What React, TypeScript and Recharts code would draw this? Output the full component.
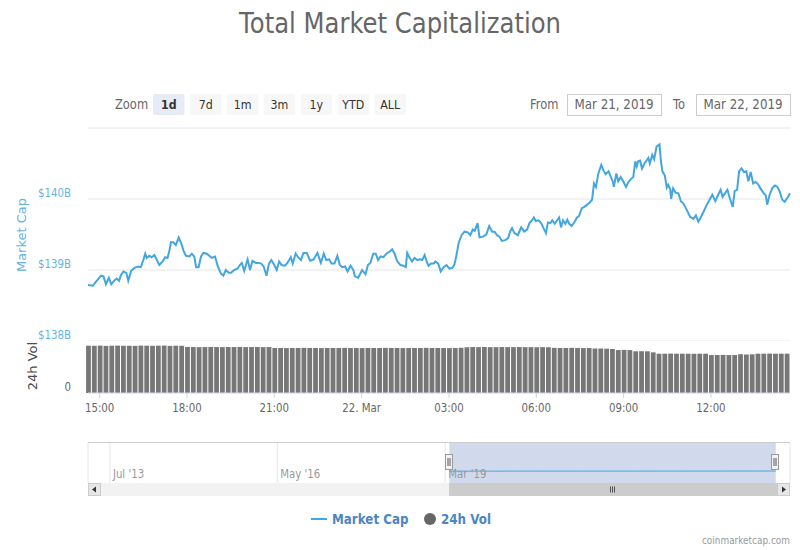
import { LineChart, Line, BarChart, Bar, XAxis, YAxis, CartesianGrid, ReferenceArea } from 'recharts';

// minutes since 21 Mar 2019 00:00, market cap in $B
const marketCap: [number, number][] = [
  [876, 138.79], [886, 138.78], [893, 138.84], [903, 138.92], [908, 138.91], [913, 138.8], [919, 138.89], [924, 138.8], [930, 138.85], [935, 138.88],
  [940, 138.85], [944, 138.93], [949, 138.98], [955, 138.96], [959, 138.85], [965, 138.99], [972, 139.03], [979, 139.05], [985, 139.04], [990, 139.14],
  [994, 139.23], [997, 139.17], [1002, 139.2], [1007, 139.18], [1013, 139.21], [1018, 139.14], [1023, 139.07], [1030, 139.12], [1035, 139.18], [1040, 139.17],
  [1044, 139.28], [1047, 139.39], [1052, 139.39], [1057, 139.35], [1063, 139.46], [1068, 139.38], [1073, 139.27], [1078, 139.2], [1085, 139.19], [1090, 139.23],
  [1095, 139.19], [1099, 139.04], [1104, 139.04], [1109, 139.19], [1114, 139.24], [1121, 139.23], [1126, 139.2], [1131, 139.17], [1138, 139.19], [1143, 139.06],
  [1150, 138.95], [1155, 138.92], [1160, 139.0], [1166, 138.96], [1171, 138.96], [1177, 139.0], [1184, 139.02], [1189, 139.07], [1193, 139.1], [1198, 138.99],
  [1205, 139.15], [1210, 139.0], [1215, 139.13], [1222, 139.1], [1227, 139.1], [1233, 139.09], [1238, 139.05], [1244, 138.92], [1249, 139.09], [1254, 139.14],
  [1260, 139.07], [1265, 139.0], [1270, 139.12], [1275, 139.07], [1282, 139.06], [1287, 139.1], [1294, 139.18], [1298, 139.09], [1304, 139.23], [1309, 139.18],
  [1315, 139.14], [1320, 139.24], [1327, 139.24], [1334, 139.13], [1341, 139.15], [1349, 139.24], [1356, 139.1], [1362, 139.23], [1367, 139.14], [1373, 139.15],
  [1378, 139.09], [1384, 139.09], [1390, 139.2], [1395, 139.07], [1400, 139.04], [1406, 139.05], [1411, 138.98], [1417, 139.06], [1423, 139.0], [1426, 138.91],
  [1433, 138.89], [1441, 139.0], [1448, 138.94], [1453, 139.07], [1458, 139.1], [1464, 139.23], [1469, 139.23], [1474, 139.14], [1479, 139.19], [1485, 139.18],
  [1491, 139.23], [1498, 139.26], [1503, 139.29], [1508, 139.23], [1513, 139.13], [1520, 139.07], [1526, 139.06], [1531, 139.04], [1534, 139.24], [1539, 139.17],
  [1544, 139.12], [1549, 139.17], [1555, 139.14], [1560, 139.15], [1565, 139.14], [1570, 139.21], [1574, 139.12], [1578, 139.06], [1583, 139.09], [1589, 139.09],
  [1592, 139.12], [1598, 139.09], [1603, 138.98], [1609, 139.04], [1615, 139.07], [1621, 139.02], [1627, 139.03], [1631, 139.07], [1635, 139.19], [1640, 139.38],
  [1646, 139.49], [1652, 139.54], [1659, 139.53], [1664, 139.49], [1669, 139.57], [1673, 139.55], [1679, 139.66], [1683, 139.46], [1690, 139.47], [1697, 139.5],
  [1703, 139.62], [1709, 139.54], [1714, 139.54], [1719, 139.49], [1724, 139.47], [1729, 139.41], [1736, 139.42], [1742, 139.45], [1746, 139.54], [1750, 139.59],
  [1755, 139.52], [1762, 139.49], [1769, 139.6], [1775, 139.54], [1781, 139.57], [1786, 139.66], [1791, 139.7], [1795, 139.74], [1799, 139.69], [1805, 139.7],
  [1810, 139.66], [1815, 139.59], [1820, 139.52], [1824, 139.67], [1829, 139.66], [1833, 139.7], [1838, 139.65], [1843, 139.7], [1847, 139.74], [1851, 139.6],
  [1855, 139.7], [1860, 139.65], [1864, 139.71], [1868, 139.65], [1873, 139.62], [1879, 139.68], [1884, 139.74], [1888, 139.76], [1894, 139.87], [1899, 139.89],
  [1905, 139.92], [1910, 139.95], [1915, 139.99], [1919, 140.22], [1923, 140.17], [1928, 140.36], [1934, 140.48], [1938, 140.41], [1943, 140.35], [1949, 140.39],
  [1952, 140.34], [1958, 140.24], [1960, 140.17], [1965, 140.36], [1969, 140.25], [1974, 140.31], [1980, 140.24], [1985, 140.17], [1990, 140.24], [1995, 140.28],
  [2000, 140.31], [2004, 140.53], [2007, 140.46], [2010, 140.53], [2014, 140.54], [2018, 140.43], [2023, 140.5], [2028, 140.55], [2031, 140.58], [2034, 140.5],
  [2039, 140.62], [2043, 140.56], [2048, 140.74], [2054, 140.77], [2057, 140.53], [2060, 140.39], [2065, 140.33], [2069, 140.16], [2072, 140.2], [2076, 140.14],
  [2078, 140.0], [2082, 140.15], [2087, 140.09], [2093, 140.08], [2098, 139.97], [2103, 139.94], [2110, 139.85], [2117, 139.75], [2124, 139.72], [2129, 139.77],
  [2134, 139.68], [2139, 139.74], [2144, 139.81], [2151, 139.91], [2158, 140.0], [2163, 140.06], [2169, 139.97], [2175, 140.06], [2180, 140.13], [2184, 140.03],
  [2189, 140.08], [2194, 140.13], [2199, 140.01], [2205, 139.89], [2209, 140.11], [2214, 140.13], [2218, 140.39], [2223, 140.43], [2228, 140.38], [2233, 140.39],
  [2237, 140.25], [2242, 140.38], [2247, 140.22], [2252, 140.24], [2257, 140.21], [2262, 140.15], [2268, 140.09], [2273, 140.05], [2276, 139.92], [2281, 140.06],
  [2287, 140.16], [2292, 140.19], [2297, 140.17], [2302, 140.1], [2307, 139.99], [2312, 139.96], [2318, 140.02], [2323, 140.08],
];

// minutes since 21 Mar 2019 00:00, 24h volume in $B
const volume: [number, number][] = [
  [876, 45.5], [888, 45.4], [900, 45.6], [912, 45.3], [924, 45.5], [936, 45.6], [948, 45.4], [960, 45.5], [972, 45.3], [984, 45.6],
  [996, 45.5], [1008, 45.4], [1020, 45.5], [1032, 45.6], [1044, 45.3], [1056, 45.5], [1068, 45.4],
  [1080, 44.3], [1092, 44.2], [1104, 44.1], [1116, 44.2], [1128, 44.3], [1140, 44.2], [1152, 44.1], [1164, 44.2], [1176, 44.2], [1188, 44.3],
  [1200, 44.1], [1212, 44.2], [1224, 44.2], [1236, 44.1], [1248, 44.2],
  [1260, 43.3], [1272, 43.3], [1284, 43.2], [1296, 43.3], [1308, 43.3], [1320, 43.4], [1332, 43.3], [1344, 43.3], [1356, 43.2], [1368, 43.3],
  [1380, 43.3], [1392, 43.3], [1404, 43.4], [1416, 43.3], [1428, 43.3], [1440, 43.2], [1452, 43.3], [1464, 43.3], [1476, 43.3], [1488, 43.4],
  [1500, 43.3], [1512, 43.3], [1524, 43.2], [1536, 43.3], [1548, 43.3], [1560, 43.3], [1572, 43.4], [1584, 43.3], [1596, 43.3], [1608, 43.3],
  [1620, 43.2], [1632, 43.3], [1644, 43.5],
  [1656, 44.0], [1668, 44.2], [1680, 44.1], [1692, 44.2], [1704, 44.1], [1716, 44.1], [1728, 44.2], [1740, 44.1], [1752, 44.1], [1764, 44.2],
  [1776, 44.1], [1788, 44.1], [1800, 44.0], [1812, 44.1], [1824, 44.0],
  [1836, 43.4], [1848, 43.3], [1860, 43.3], [1872, 43.4], [1884, 43.3], [1896, 43.2], [1908, 43.3],
  [1920, 42.8], [1932, 42.8], [1944, 42.6], [1956, 42.3],
  [1968, 41.3], [1980, 41.4], [1992, 41.3], [2004, 40.1], [2016, 40.2], [2028, 40.1], [2040, 39.1],
  [2052, 37.8], [2064, 37.8], [2076, 37.9], [2088, 37.8], [2100, 37.8], [2112, 37.8], [2124, 37.7], [2136, 37.8], [2148, 37.8],
  [2160, 36.5], [2172, 36.5], [2184, 36.6], [2196, 36.5], [2208, 36.5],
  [2220, 37.3], [2232, 37.0], [2244, 37.2],
  [2256, 37.8], [2268, 37.8], [2280, 37.9], [2292, 37.8], [2304, 37.8], [2316, 37.8],
];

const timeDomain = [876, 2323];
const capTicks = [138, 139, 140, 141];
const volTicks = [0];
const timeTicks = [900, 1080, 1260, 1440, 1620, 1800, 1980, 2160];
const timeTickLabels = ['15:00', '18:00', '21:00', '22. Mar', '03:00', '06:00', '09:00', '12:00'];

// navigator: decimal years
const navDomain = [2013.13, 2025.0];
const navTicks = [2013.5, 2016.33, 2019.17];
const navTickLabels = ["Jul '13", "May '16", "Mar '19"];
const navRange = [2019.24, 2024.76];
const navCap: [number, number][] = [[2019.24, 138.8], [2024.76, 140.1]];

const zoomButtons = ['1d', '7d', '1m', '3m', '1y', 'YTD', 'ALL'];
const dateRange = ['Mar 21, 2019', 'Mar 22, 2019'];

const FONT = '"DejaVu Sans", sans-serif';
const SX = 0.85;
const LINE = '#44a6df';
const LABEL_BLUE = '#66b3e3';

const capData = marketCap.map(([t, v]) => ({ t, v }));
const volData = volume.map(([t, v]) => ({ t, v }));
const navData = navCap.map(([yr, v]) => ({ yr, v }));

function Txt({ x, y, anchor = 'start', size = 12, fill = '#666', weight = 'normal', children }: any) {
  return (
    <text
      transform={`translate(${x} ${y}) scale(${SX} 1)`}
      textAnchor={anchor}
      fontSize={size}
      fill={fill}
      fontWeight={weight}
      fontFamily={FONT}
    >
      {children}
    </text>
  );
}

const capTick = (p: any) =>
  p.payload.value >= 141 ? <g /> : (
    <Txt x={p.x} y={p.y - 2} anchor="end" size={12} fill={LABEL_BLUE}>{'$' + p.payload.value + 'B'}</Txt>
  );

const volTick = (p: any) => (
  <Txt x={p.x} y={p.y - 2} anchor="end" size={12} fill="#666">{p.payload.value}</Txt>
);

const timeTick = (p: any) => (
  <Txt x={p.x} y={p.y + 8} anchor="middle" size={12} fill="#666">
    {timeTickLabels[timeTicks.indexOf(p.payload.value)]}
  </Txt>
);

const navTick = (p: any) => (
  <Txt x={p.x + 3} y={p.y - 5} size={12} fill="#999">
    {navTickLabels[navTicks.indexOf(p.payload.value)]}
  </Txt>
);

function Overlay() {
  const handles = [449, 775];
  return (
    <svg width={800} height={550} style={{ position: 'absolute', left: 0, top: 0, pointerEvents: 'none' }}>
      <Txt x={400} y={33} anchor="middle" size={28.6} fill="#666">Total Market Capitalization</Txt>

      <Txt x={115} y={109} size={13.5} fill="#666">Zoom</Txt>
      {zoomButtons.map((b, i) => (
        <g key={b}>
          <rect x={153 + i * 36.9} y={94} width={31.5} height={21} rx={2} fill={i === 0 ? '#e6ebf5' : '#f7f7f7'} />
          <Txt x={153 + i * 36.9 + 15.75} y={109} anchor="middle" size={13} fill="#333" weight={i === 0 ? 'bold' : 'normal'}>{b}</Txt>
        </g>
      ))}

      <Txt x={530} y={109} size={13.5} fill="#666">From</Txt>
      <rect x={567.5} y={94.5} width={94} height={21} fill="#fff" stroke="#ccc" />
      <Txt x={614} y={109} anchor="middle" size={14} fill="#666">{dateRange[0]}</Txt>
      <Txt x={673} y={109} size={13.5} fill="#666">To</Txt>
      <rect x={696.5} y={94.5} width={94} height={21} fill="#fff" stroke="#ccc" />
      <Txt x={743} y={109} anchor="middle" size={14} fill="#666">{dateRange[1]}</Txt>

      <text transform="translate(25.5 235) rotate(-90)" textAnchor="middle" fontSize={13} fill={LABEL_BLUE} fontFamily={FONT}>Market Cap</text>
      <text transform="translate(37 366) rotate(-90)" textAnchor="middle" fontSize={13} fill="#4d4d4d" fontFamily={FONT}>24h Vol</text>

      <line x1={88} x2={790} y1={442.5} y2={442.5} stroke="#ccc" />
      {handles.map((hx) => (
        <g key={hx}>
          <rect x={hx - 3.5} y={454.5} width={7} height={15} fill="#f2f2f2" stroke="#999" />
          <line x1={hx - 1} x2={hx - 1} y1={458} y2={466} stroke="#333" strokeWidth={0.8} />
          <line x1={hx + 1} x2={hx + 1} y1={458} y2={466} stroke="#333" strokeWidth={0.8} />
        </g>
      ))}

      <rect x={88} y={483} width={702} height={13} fill="#f2f2f2" />
      <rect x={449} y={483} width={328} height={13} fill="#ccc" />
      {[610.5, 612.5, 614.5].map((gx) => (
        <line key={gx} x1={gx} x2={gx} y1={486.5} y2={492.5} stroke="#333" strokeWidth={0.8} />
      ))}
      <rect x={88.5} y={483.5} width={12} height={12} fill="#e6e6e6" stroke="#ccc" />
      <path d="M96 486.5 L92 489.5 L96 492.5 Z" fill="#333" />
      <rect x={777.5} y={483.5} width={12} height={12} fill="#e6e6e6" stroke="#ccc" />
      <path d="M782 486.5 L786 489.5 L782 492.5 Z" fill="#333" />

      <line x1={311} x2={327} y1={519} y2={519} stroke={LINE} strokeWidth={2} />
      <Txt x={332} y={524} size={14} fill="#4b86c4" weight="bold">Market Cap</Txt>
      <circle cx={430} cy={519} r={6} fill="#666" />
      <Txt x={441} y={524} size={14} fill="#4b86c4" weight="bold">24h Vol</Txt>

      <Txt x={790} y={544} anchor="end" size={10.5} fill="#999">coinmarketcap.com</Txt>
    </svg>
  );
}

export default function App() {
  return (
    <div style={{ position: 'absolute', left: 0, top: 0, width: 800, height: 550, background: '#fff', fontFamily: FONT }}>
      <div style={{ position: 'absolute', left: 0, top: 100 }}>
        <LineChart width={800} height={241} data={capData} margin={{ top: 28, right: 10, bottom: 0, left: 0 }}>
          <CartesianGrid vertical={false} stroke="#e6e6e6" />
          <XAxis type="number" dataKey="t" domain={timeDomain} hide />
          <YAxis
            width={88}
            domain={[138, 141]}
            ticks={capTicks}
            interval={0}
            axisLine={false}
            tickLine={false}
            tickSize={0}
            tickMargin={17}
            tick={capTick}
          />
          <Line type="linear" dataKey="v" stroke={LINE} strokeWidth={2} dot={false} isAnimationActive={false} />
        </LineChart>
      </div>

      <div style={{ position: 'absolute', left: 0, top: 341 }}>
        <BarChart width={800} height={78} data={volData} margin={{ top: 0, right: 10, bottom: 0, left: 0 }}>
          <XAxis
            type="number"
            dataKey="t"
            domain={timeDomain}
            ticks={timeTicks}
            interval={0}
            height={26}
            stroke="#ccd6eb"
            tickSize={5}
            tickMargin={6}
            tick={timeTick}
          />
          <YAxis
            width={88}
            domain={[0, 50]}
            ticks={volTicks}
            axisLine={false}
            tickLine={false}
            tickSize={0}
            tickMargin={17}
            tick={volTick}
          />
          <Bar dataKey="v" fill="#777" barSize={4.8} isAnimationActive={false} />
        </BarChart>
      </div>

      <div style={{ position: 'absolute', left: 0, top: 442 }}>
        <LineChart width={800} height={55} data={navData} margin={{ top: 0, right: 10, bottom: 0, left: 88 }}>
          <CartesianGrid horizontal={false} stroke="#e6e6e6" />
          <XAxis
            type="number"
            dataKey="yr"
            domain={navDomain}
            ticks={navTicks}
            interval={0}
            height={14}
            axisLine={false}
            tickLine={false}
            tickSize={0}
            tickMargin={0}
            tick={navTick}
          />
          <YAxis hide domain={[0, 480]} />
          <ReferenceArea x1={navRange[0]} x2={navRange[1]} fill="#ccd6eb" fillOpacity={0.9} stroke="none" />
          <Line type="linear" dataKey="v" stroke={LINE} strokeWidth={1} dot={false} isAnimationActive={false} />
        </LineChart>
      </div>

      <Overlay />
    </div>
  );
}
